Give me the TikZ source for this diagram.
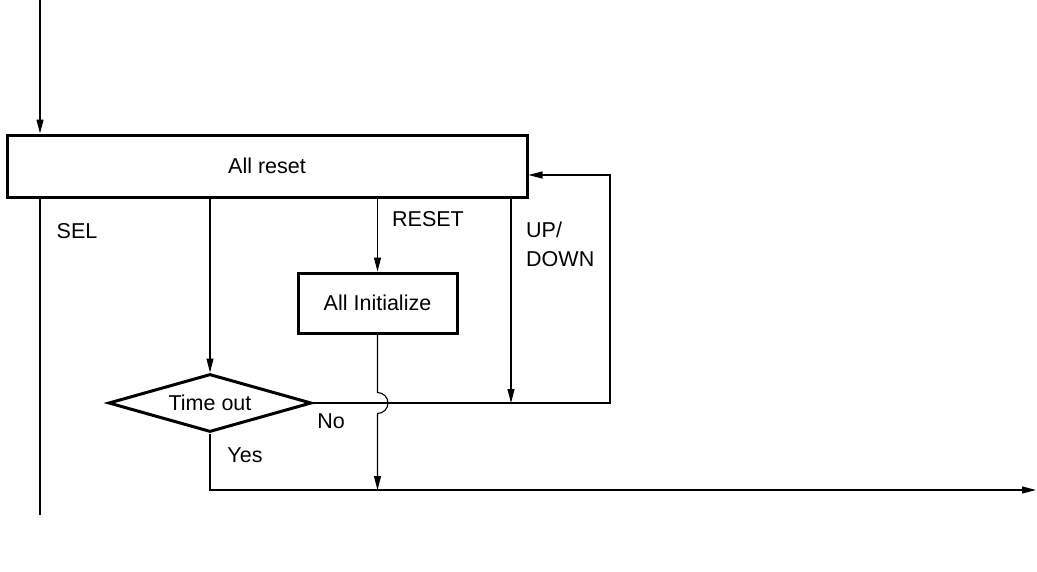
\documentclass[tikz,border=0pt]{standalone}
\usepackage{fontspec}
\setmainfont{Liberation Sans}
\usetikzlibrary{shapes.geometric,arrows.meta}
\begin{document}
\begin{tikzpicture}[x=1pt,y=-1pt,
  font=\fontsize{21.5}{29}\selectfont,
  boxstyle/.style={draw,line width=3pt,inner sep=0pt,rectangle},
  decstyle/.style={draw,line width=3pt,diamond,aspect=3.5,inner sep=0pt,minimum width=203pt,minimum height=58pt},
  conn/.style={line width=1.1pt},
  arr/.style={conn,-{Triangle[length=14pt,width=7pt]}},
  lbl/.style={inner sep=0pt}]
\useasboundingbox (0,0) rectangle (1037,571);
\node[boxstyle,minimum width=520pt,minimum height=62pt] (allreset) at (267,166) {All reset};
\node[boxstyle,minimum width=159pt,minimum height=60pt] (init) at (377.5,303) {All Initialize};
\node[decstyle] (timeout) at (210,403) {Time out};
\coordinate (topin) at (40,0);
\coordinate (selend) at (40,515);
\coordinate (loopr) at (610,403);
\coordinate (loopt) at (610,175);
\coordinate (hopa) at (377.5,392.5);
\coordinate (outend) at (1036,490);
\coordinate (joinb) at (377.5,490);
\coordinate (updn) at (511,403);
% connectors
\draw[arr] (topin) -- (topin |- allreset.north);
\draw[conn] (selend |- allreset.south) -- (selend);
\draw[arr] (timeout.north |- allreset.south) -- (timeout.north);
\draw[arr] (init.north |- allreset.south) -- (init.north);
\draw[arr] (updn |- allreset.south) -- (updn);
\draw[arr] (timeout.east) -- (loopr) -- (loopt) -- (loopt -| allreset.east);
\draw[arr] (init.south) -- (hopa) arc (-90:90:10.5) -- (joinb);
\draw[arr] (timeout.south) |- (outend);
% labels
\node[lbl] (sel) at (77,231) {SEL};
\node[lbl] (rst) at (428,219) {RESET};
\node[lbl,align=left,anchor=north west] (ud) at (526,222) {UP/\\DOWN};
\node[lbl] (no) at (331,421) {No};
\node[lbl] (yes) at (245,455) {Yes};
\end{tikzpicture}
\end{document}
